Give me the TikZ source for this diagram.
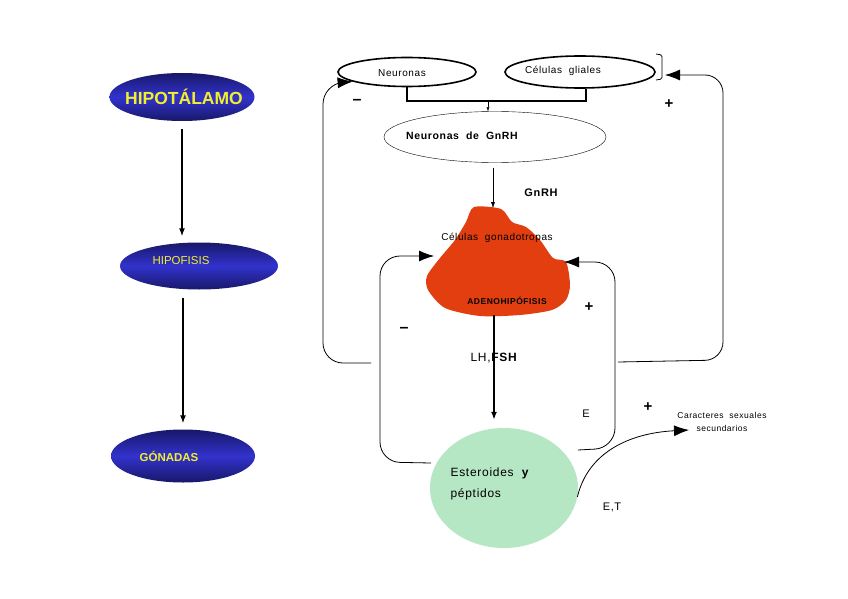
\documentclass[tikz,border=0pt]{standalone}
\usepackage{fontspec}
\setmainfont{Liberation Sans}
\newfontfamily\spaced[LetterSpace=6]{Liberation Sans}
\usetikzlibrary{shapes.geometric,arrows.meta}

\definecolor{hipblue}{RGB}{50,50,205}
\definecolor{hipdark}{RGB}{24,24,105}
\definecolor{hipyellow}{RGB}{242,240,40}
\definecolor{adeno}{RGB}{226,62,16}
\definecolor{steroid}{RGB}{181,231,197}

\tikzset{
  organ/.style={ellipse, top color=hipdark, bottom color=hipdark, middle color=hipblue, inner sep=0pt},
  cell/.style={ellipse, draw, inner sep=0pt},
  axis/.style={line width=1.4pt, -{Latex[length=8pt,width=6pt]}, shorten <=8pt, shorten >=6pt},
  fback/.style={line width=0.8pt, rounded corners=20pt, -{Latex[length=15pt,width=11pt]}},
  txt/.style={font=\spaced\fontsize{#1}{#1}\selectfont},
  btxt/.style={font=\spaced\bfseries\fontsize{#1}{#1}\selectfont}
}

\begin{document}
\begin{tikzpicture}[x=1pt,y=-1pt]
\useasboundingbox (0,0) rectangle (848,599);

% left column
\node[organ, minimum width=145pt, minimum height=48pt] (hipo) at (182,97) {};
\node[text=hipyellow, font=\bfseries\fontsize{17.5}{18}\selectfont] (hipot) at (184,97) {HIPOTÁLAMO};
\node[organ, minimum width=158pt, minimum height=47pt] (hipof) at (199,266) {};
\node[text=hipyellow, font=\fontsize{11.5}{12}\selectfont] (hipoft) at (181,261) {HIPOFISIS};
\node[organ, minimum width=144pt, minimum height=53pt] (gon) at (183,456) {};
\node[text=hipyellow, font=\bfseries\fontsize{11.5}{12}\selectfont] (gont) at (169,456) {GÓNADAS};

\draw[axis] (hipo) -- (hipo |- hipof.north);
\draw[axis] (hipof.south -| gon) -- (gon.north);

% hypothalamus cells
\node[cell, line width=1.6pt, minimum width=138pt, minimum height=29pt] (neur) at (407,72) {};
\node[txt=10] (neurt) at (402,73) {Neuronas};
\node[cell, line width=1.6pt, minimum width=150pt, minimum height=32pt] (glia) at (580,72) {};
\node[txt=10] (gliat) at (563,71) {Células\ \ gliales};
\draw[line width=0.8pt, rounded corners=1.5pt] (656,54) -- (662,55) -- (662,79) -- (656,80);
\coordinate (brk) at (665,75);

\node[cell, thin, minimum width=222pt, minimum height=51pt] (gnrhn) at (495,137) {};
\node[btxt=10.5] (gnrhnt) at (462,136) {Neuronas\ \ de\ \ GnRH};

\draw[line width=2.2pt] (neur.south) -- ++(0,14) -| ([xshift=6pt]glia.south);
\coordinate (merge) at (488,100);
\draw[thin, -{Latex[length=4pt,width=3pt]}] (merge) -- (merge |- gnrhn.north);

% adenohipofisis
\fill[adeno] plot[smooth cycle, tension=0.45] coordinates {(474,207) (501,209) (512,222) (526,227) (540,240) (553,258) (566,262) (570,285) (566,300) (552,310) (520,315) (480,316) (445,308) (428,290) (427,276) (440,258) (455,240) (466,222)};
\coordinate (blobtop) at (493,208);
\coordinate (blobbot) at (494,315);
\coordinate (blobL) at (434,256);
\coordinate (blobR) at (564,262);

\draw[thin, -{Latex[length=6pt,width=4pt]}, shorten <=5pt] (blobtop |- gnrhn.south) -- (blobtop);
\node[btxt=11] (gnrh) at (541,193) {GnRH};
\node[txt=10] (gonad) at (497,238) {Células\ \ gonadotropas};
\node[btxt=8.5] (adenot) at (507,301) {ADENOHIPÓFISIS};

% gonads product
\node[ellipse, fill=steroid, minimum width=148pt, minimum height=120pt] (ster) at (504,488) {};
\node[txt=12, align=left, anchor=west] (stert) at (447,484) {Esteroides\ \ \textbf{y}\\[9pt]péptidos};

\draw[line width=1.6pt, -{Latex[length=8pt,width=6pt]}, shorten >=8pt] (blobbot) -- (blobbot |- ster.north);
\node[txt=12] (lhfsh) at (494,358) {LH,\textbf{FSH}};

% feedback loops
\coordinate (olstart) at (371,363);
\coordinate (orstart) at (618,362);
\coordinate (ilstart) at (431,463);
\coordinate (irstart) at (578,450);
\draw[fback] (olstart) -- (323,363) -- (323,84) -- (neur.190);
\draw[fback, rounded corners=18pt] (orstart) -- (723,360) -- (723,75) -- (brk);
\draw[fback] (ilstart) -- (380,462) -- (380,256) -- (blobL);
\draw[fback] (irstart) -- (615,448) -- (615,262) -- (blobR);

\node[font=\bfseries\fontsize{16}{16}\selectfont] (m1) at (357,102) {–};
\node[font=\bfseries\fontsize{16}{16}\selectfont] (m2) at (404,330) {–};
\node[font=\bfseries\fontsize{15}{15}\selectfont] (p1) at (669,104) {+};
\node[font=\bfseries\fontsize{15}{15}\selectfont] (p2) at (589,307) {+};
\node[font=\bfseries\fontsize{15}{15}\selectfont] (p3) at (648,407) {+};
\node[txt=11] (e1) at (586,414) {E};

% secondary characters
\coordinate (carin) at (689,430);
\draw[line width=0.8pt, -{Latex[length=15pt,width=11pt]}] (ster.-7) .. controls (588,452) and (630,433) .. (carin);
\node[txt=8.5, align=center] (carac) at (722,422) {Caracteres\ \ sexuales\\[5pt]secundarios};
\node[txt=11] (et) at (612,507) {E,T};

\end{tikzpicture}
\end{document}
